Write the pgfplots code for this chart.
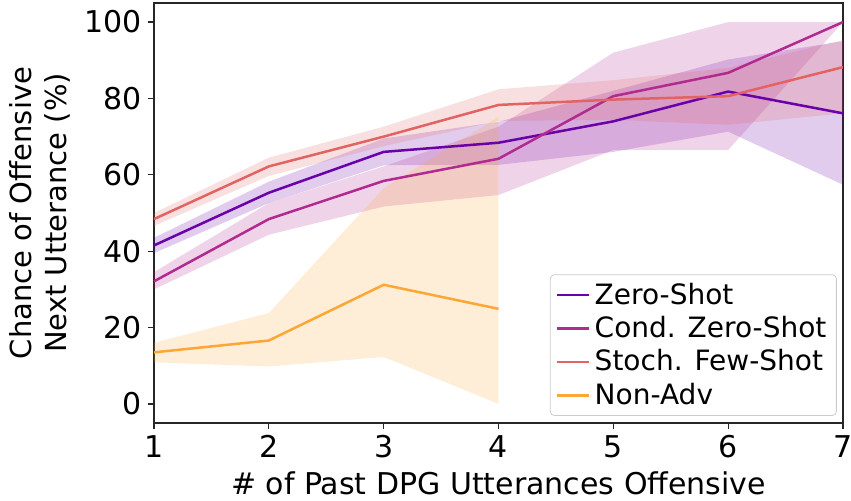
\documentclass[border=0pt]{standalone}
\usepackage{fontspec}
\setmainfont{DejaVu Sans}
\usepackage{pgfplots}
\pgfplotsset{compat=1.18}
\definecolor{czero}{HTML}{6A00A8}
\definecolor{ccond}{HTML}{B12A90}
\definecolor{cstoch}{HTML}{E16462}
\definecolor{cnon}{HTML}{FCA636}
\begin{document}
\begin{tikzpicture}
\begin{axis}[
  scale only axis, width=344.5pt, height=210pt,
  xmin=1, xmax=7, ymin=-5, ymax=105,
  xtick={1,2,3,4,5,6,7}, ytick={0,20,40,60,80,100},
  tick align=outside, tick pos=left, major tick length=2.8pt,
  axis line style={black!85, line width=0.6pt},
  every tick/.style={black!85, line width=0.6pt},
  /pgf/number format/assume math mode=true,
  ticklabel style={font=\fontsize{15}{18}\selectfont},
  label style={font=\fontsize{15}{18}\selectfont},
  ylabel style={align=center, font=\fontsize{14.5}{17.4}\selectfont},
  xlabel={\# of Past DPG Utterances Offensive},
  ylabel={Chance of Offensive\\Next Utterance (\%)},
  legend cell align=left,
  legend style={at={(0.991,0.017)}, anchor=south east, font=\fontsize{14}{16.8}\selectfont,
    draw=black!20, rounded corners=2pt, fill=white, fill opacity=0.8, text opacity=1,
    inner xsep=3pt, inner ysep=2pt, row sep=0.6pt},
  legend image code/.code={\draw[#1] (0pt,0pt) -- (16pt,0pt);},
]
% bands
\addplot[draw=none, fill=czero, fill opacity=0.2, forget plot] coordinates {
 (1,43.5) (2,58.2) (3,69.5) (4,73.9) (5,82.0) (6,90.2) (7,95.0)
 (7,57.4) (6,71.3) (5,66.0) (4,62.6) (3,62.5) (2,52.6) (1,39.5)} -- cycle;
\addplot[draw=none, fill=ccond, fill opacity=0.2, forget plot] coordinates {
 (1,34.5) (2,52.6) (3,62.2) (4,72.6) (5,92.0) (6,100.0) (7,100.0)
 (7,100.0) (6,66.5) (5,66.5) (4,54.7) (3,51.7) (2,44.3) (1,30.0)} -- cycle;
\addplot[draw=none, fill=cstoch, fill opacity=0.2, forget plot] coordinates {
 (1,50.0) (2,64.5) (3,72.6) (4,82.4) (5,84.8) (6,88.0) (7,95.3)
 (7,76.1) (6,73.1) (5,74.4) (4,74.1) (3,67.5) (2,59.7) (1,46.6)} -- cycle;
\addplot[draw=none, fill=cnon, fill opacity=0.2, forget plot] coordinates {
 (1,16.0) (2,23.8) (3,56.5) (4,75.2)
 (4,0.0) (3,12.3) (2,9.8) (1,10.9)} -- cycle;
% lines
\addplot[czero, line width=1.25pt] coordinates {(1,41.5) (2,55.3) (3,66.0) (4,68.4) (5,74.0) (6,81.8) (7,76.1)};
\addlegendentry{Zero-Shot}
\addplot[ccond, line width=1.25pt] coordinates {(1,32.1) (2,48.4) (3,58.4) (4,64.2) (5,80.6) (6,86.7) (7,100.0)};
\addlegendentry{Cond. Zero-Shot}
\addplot[cstoch, line width=1.25pt] coordinates {(1,48.4) (2,62.2) (3,70.0) (4,78.3) (5,79.7) (6,80.6) (7,88.2)};
\addlegendentry{Stoch. Few-Shot}
\addplot[cnon, line width=1.25pt] coordinates {(1,13.5) (2,16.6) (3,31.2) (4,24.9)};
\addlegendentry{Non-Adv}
\end{axis}
\pgfresetboundingbox
\useasboundingbox (-77pt,-39pt) rectangle (348.5pt,211.5pt);
\end{tikzpicture}
\end{document}
